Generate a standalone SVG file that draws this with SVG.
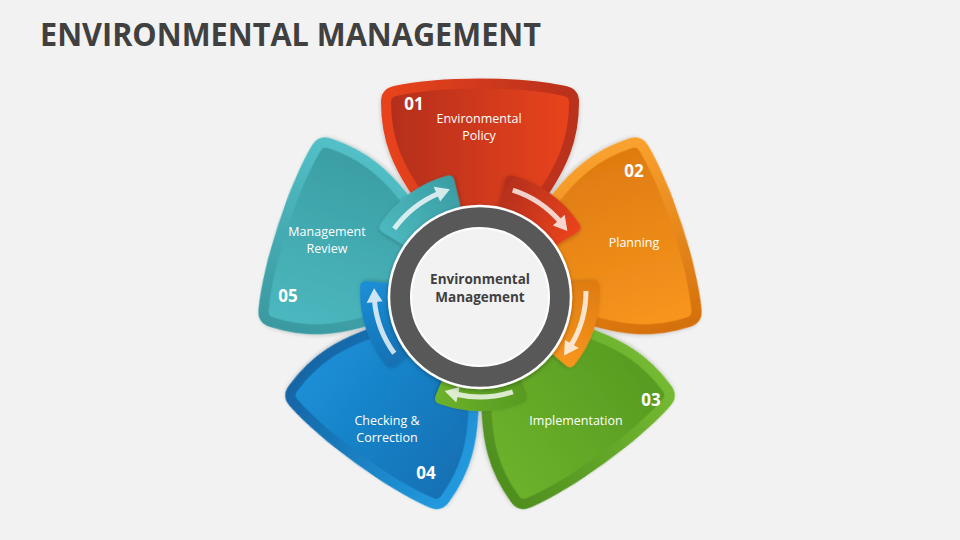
<svg xmlns="http://www.w3.org/2000/svg" width="960" height="540" viewBox="0 0 960 540">
<defs>
<style>
.title{font-family:"Open Sans","Noto Sans","DejaVu Sans",sans-serif;font-size:32px;font-weight:700;fill:#404040}
.lbl{font-family:"Open Sans","Noto Sans","DejaVu Sans",sans-serif;font-size:12.5px;fill:#fff;text-anchor:middle}
.num{font-family:"Open Sans","Noto Sans","DejaVu Sans",sans-serif;font-size:17px;font-weight:700;fill:#fff;text-anchor:middle}
.ctr{font-family:"Open Sans","Noto Sans","DejaVu Sans",sans-serif;font-size:13.5px;font-weight:700;fill:#404040;text-anchor:middle}
.petal{stroke-width:10;stroke-linejoin:round}
.arr{opacity:.78}
.arr path{fill:none;stroke:#fff;stroke-width:5}
.arr polygon{fill:#fff}
</style>
<filter id="sh" x="-20%" y="-20%" width="140%" height="140%"><feDropShadow dx="0" dy="2" stdDeviation="2" flood-color="#000" flood-opacity="0.22"/></filter>
<filter id="sh2" x="-30%" y="-30%" width="160%" height="160%"><feDropShadow dx="0" dy="1.5" stdDeviation="2" flood-color="#000" flood-opacity="0.3"/></filter>
<path id="petal" d="M -85,-200 C -40,-210 40,-210 85,-200 Q 94,-198 94,-189 C 94,-160 89,-125 40,-68 L -40,-68 C -89,-125 -94,-160 -94,-189 Q -94,-198 -85,-200 Z"/>
<path id="tab" d="M -44.1,-104 Q -46.9,-110.5 -41,-112.8 A120 120 0 0 1 41,-112.8 Q 46.9,-110.5 44.1,-104 L 30.5,-71.8 A78 78 0 0 0 -30.5,-71.8 Z"/>
<g id="arrow" class="arr"><path d="M -32.8,-100.8 A106 106 0 0 1 23.8,-103.3"/><polygon points="20.4,-95.9 23.7,-111.5 35.4,-99.9"/></g>
<linearGradient id="rIn" x1="0" y1="0" x2="1" y2="0"><stop offset="0" stop-color="#b32e1a"/><stop offset="1" stop-color="#ea441d"/></linearGradient>
<linearGradient id="rRim" x1="0" y1="0" x2="1" y2="0"><stop offset="0" stop-color="#e8431e"/><stop offset="1" stop-color="#b9301a"/></linearGradient>
<linearGradient id="oIn" x1="0" y1="0" x2="1" y2="0"><stop offset="0" stop-color="#de7b10"/><stop offset="1" stop-color="#f8961f"/></linearGradient>
<linearGradient id="oRim" x1="0" y1="0" x2="1" y2="0"><stop offset="0" stop-color="#f9a12e"/><stop offset="1" stop-color="#d5710c"/></linearGradient>
<linearGradient id="gIn" x1="0" y1="0" x2="1" y2="0"><stop offset="0" stop-color="#579b22"/><stop offset="1" stop-color="#6db22b"/></linearGradient>
<linearGradient id="gRim" x1="0" y1="0" x2="1" y2="0"><stop offset="0" stop-color="#74b931"/><stop offset="1" stop-color="#4f8f1f"/></linearGradient>
<linearGradient id="bIn" x1="0" y1="0" x2="1" y2="0"><stop offset="0" stop-color="#1570b3"/><stop offset="1" stop-color="#1b8fd6"/></linearGradient>
<linearGradient id="bRim" x1="0" y1="0" x2="1" y2="0"><stop offset="0" stop-color="#2299de"/><stop offset="1" stop-color="#1366a6"/></linearGradient>
<linearGradient id="tIn" x1="0" y1="0" x2="1" y2="0"><stop offset="0" stop-color="#4cb8bf"/><stop offset="1" stop-color="#3b9da4"/></linearGradient>
<linearGradient id="tRim" x1="0" y1="0" x2="1" y2="0"><stop offset="0" stop-color="#3a9aa1"/><stop offset="1" stop-color="#52bfc6"/></linearGradient>
</defs>
<rect width="960" height="540" fill="#f2f2f2"/>
<text class="title" x="40" y="46" textLength="501" lengthAdjust="spacingAndGlyphs">ENVIRONMENTAL MANAGEMENT</text>

<g id="node-01">
<use href="#petal" class="petal" transform="translate(480,291)" fill="url(#rIn)" stroke="url(#rRim)" filter="url(#sh)"/>
<text class="num" x="414" y="110">01</text>
<text class="lbl" x="479" y="123">Environmental</text>
<text class="lbl" x="479" y="140">Policy</text>
</g>
<g id="node-02">
<use href="#petal" class="petal" transform="translate(480,291) rotate(72)" fill="url(#oIn)" stroke="url(#oRim)" filter="url(#sh)"/>
<text class="num" x="634" y="177">02</text>
<text class="lbl" x="634" y="247">Planning</text>
</g>
<g id="node-03">
<use href="#petal" class="petal" transform="translate(480,291) rotate(144)" fill="url(#gIn)" stroke="url(#gRim)" filter="url(#sh)"/>
<text class="num" x="651" y="406">03</text>
<text class="lbl" x="576" y="425">Implementation</text>
</g>
<g id="node-04">
<use href="#petal" class="petal" transform="translate(480,291) rotate(216)" fill="url(#bIn)" stroke="url(#bRim)" filter="url(#sh)"/>
<text class="lbl" x="387" y="425">Checking &amp;</text>
<text class="lbl" x="387" y="442">Correction</text>
<text class="num" x="426" y="479">04</text>
</g>
<g id="node-05">
<use href="#petal" class="petal" transform="translate(480,291) rotate(288)" fill="url(#tIn)" stroke="url(#tRim)" filter="url(#sh)"/>
<text class="lbl" x="327" y="236">Management</text>
<text class="lbl" x="327" y="253">Review</text>
<text class="num" x="288" y="302">05</text>
</g>

<g id="connectors">
<g transform="translate(480,291) rotate(36)"><use href="#tab" fill="url(#rIn)" filter="url(#sh2)"/><use href="#arrow"/></g>
<g transform="translate(480,291) rotate(108)"><use href="#tab" fill="url(#oIn)" filter="url(#sh2)"/><use href="#arrow"/></g>
<g transform="translate(480,291) rotate(180)"><use href="#tab" fill="url(#gIn)" filter="url(#sh2)"/><use href="#arrow"/></g>
<g transform="translate(480,291) rotate(252)"><use href="#tab" fill="url(#bIn)" filter="url(#sh2)"/><use href="#arrow"/></g>
<g transform="translate(480,291) rotate(324)"><use href="#tab" fill="url(#tIn)" filter="url(#sh2)"/><use href="#arrow"/></g>
</g>

<g id="center">
<circle cx="480" cy="297" r="91" fill="#595959" stroke="#fff" stroke-width="2.5" filter="url(#sh2)"/>
<circle cx="480" cy="297" r="69" fill="#f2f2f2" stroke="#fff" stroke-width="2"/>
<text class="ctr" x="480" y="284">Environmental</text>
<text class="ctr" x="480" y="302">Management</text>
</g>
</svg>
